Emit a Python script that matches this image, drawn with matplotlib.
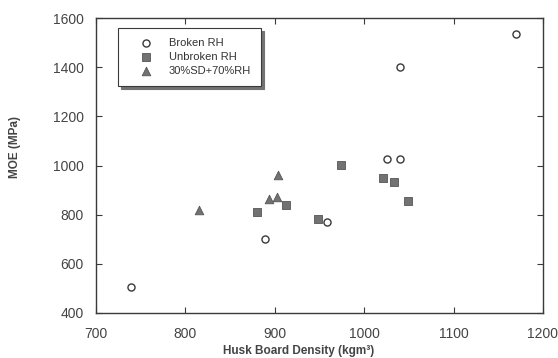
import matplotlib
matplotlib.use("Agg")
import matplotlib.pyplot as plt

plt.rcParams['font.family'] = ['Liberation Sans', 'DejaVu Sans']

# Broken RH (open circles)
broken_x = [739, 889, 958, 1026, 1040, 1040, 1170]
broken_y = [506, 701, 770, 1028, 1028, 1401, 1535]

# Unbroken RH (grey squares)
unbroken_x = [880, 912, 948, 974, 1021, 1033, 1049]
unbroken_y = [811, 839, 782, 1002, 949, 933, 855]

# 30%SD+70%RH (grey triangles)
mix_x = [815, 893, 902, 904]
mix_y = [819, 864, 872, 961]

xticks = [700, 800, 900, 1000, 1100, 1200]
yticks = [400, 600, 800, 1000, 1200, 1400, 1600]

ink = '#3a3a3a'
grey = '#727272'
txt = '#444444'

fig = plt.figure(figsize=(5.58, 3.58), dpi=100)
ax = fig.add_axes([96 / 558, 1 - 313 / 358, 447 / 558, 295 / 358])

ax.scatter(broken_x, broken_y, marker='o', s=26, facecolor='white',
           edgecolor=ink, linewidth=1.0, label='Broken RH', zorder=3)
ax.scatter(unbroken_x, unbroken_y, marker='s', s=38, facecolor=grey,
           edgecolor='#555555', linewidth=0.6, label='Unbroken RH', zorder=3)
ax.scatter(mix_x, mix_y, marker='^', s=38, facecolor=grey,
           edgecolor='#555555', linewidth=0.6, label='30%SD+70%RH', zorder=3)

ax.set_xlim(700, 1200)
ax.set_ylim(400, 1600)
ax.set_xticks(xticks)
ax.set_yticks(yticks)
ax.tick_params(direction='in', top=True, right=True, length=4, width=0.8,
               colors=ink, labelsize=10, labelcolor=txt)
ax.tick_params(axis='y', pad=9)
ax.tick_params(axis='x', pad=10)
for sp in ax.spines.values():
    sp.set_color(ink)
    sp.set_linewidth(1.0)

ax.set_xlabel('Husk Board Density (kgm³)', fontsize=8.5, fontweight='bold',
              color=txt)
ax.xaxis.set_label_coords(0.454, -0.108)
ax.set_ylabel('MOE (MPa)', fontsize=8.5, fontweight='bold', color=txt)
ax.yaxis.set_label_coords(-0.168, 0.563)

leg = ax.legend(loc='upper left', bbox_to_anchor=(0.049, 0.966), fontsize=8,
                frameon=True, fancybox=False,
                shadow={'color': '0.45', 'alpha': 1},
                borderpad=0.9, handletextpad=0.5, labelspacing=0.35,
                borderaxespad=0, handlelength=3.2)
leg.get_frame().set_edgecolor(ink)
leg.get_frame().set_linewidth(0.8)
for t in leg.get_texts():
    t.set_color('#333333')

fig.savefig('out.png', dpi=100)
